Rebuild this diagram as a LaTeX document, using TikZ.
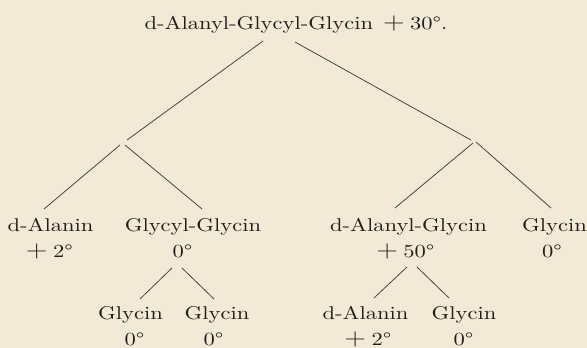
\documentclass[tikz,border=0pt]{standalone}
\usepackage{fontspec}
\usepackage{graphicx}
\usetikzlibrary{calc}
\newfontfamily\inkfont{lmroman10-regular.otf}
\definecolor{paper}{HTML}{F2E9D7}
\definecolor{ink}{HTML}{221E1A}
\definecolor{linec}{HTML}{4A4640}
\newcommand\pls{\scalebox{1.4}{$+$}\hspace{0.25em}}
\newcommand\wide[1]{\scalebox{1.22}[1]{#1}}
\begin{document}
\begin{tikzpicture}[x=1pt,y=-1pt,
  lbl/.style={anchor=base, inner sep=0pt, text=ink, font=\fontsize{18.5}{22}\inkfont},
  conn/.style={draw=linec, line width=0.8pt}]
\fill[paper] (0,0) rectangle (587,348);
\useasboundingbox (0,0) rectangle (587,348);
% top
\node[lbl] (top) at (296,29) {\wide{d-Alanyl-Glycyl-Glycin\hspace{0.45em}\pls30°.}};
% level 1
\node[lbl] (dA)   at (50.5,231) {\wide{d-Alanin}};
\node[lbl] (dAv)  at (49.5,257) {\wide{\pls2°}};
\node[lbl] (GG)   at (193,231)  {\wide{Glycyl-Glycin}};
\node[lbl] (GGv)  at (182.5,257){\wide{0°}};
\node[lbl] (dAG)  at (408.5,231){\wide{d-Alanyl-Glycin}};
\node[lbl] (dAGv) at (405.5,257){\wide{\pls50°}};
\node[lbl] (G)    at (554.5,231){\wide{Glycin}};
\node[lbl] (Gv)   at (552,257)  {\wide{0°}};
% level 2
\node[lbl] (g1)   at (130.5,319.5){\wide{Glycin}};
\node[lbl] (g1v)  at (134.5,345)  {\wide{0°}};
\node[lbl] (g2)   at (217,319.5)  {\wide{Glycin}};
\node[lbl] (g2v)  at (213.5,345)  {\wide{0°}};
\node[lbl] (dA2)  at (365.5,319.5){\wide{d-Alanin}};
\node[lbl] (dA2v) at (368,345)    {\wide{\pls2°}};
\node[lbl] (g3)   at (464,319.5)  {\wide{Glycin}};
\node[lbl] (g3v)  at (463.5,345)  {\wide{0°}};
% junctions
\coordinate (jl) at (123,143);
\coordinate (jr) at (474,142);
% connectors
\draw[conn] ($(top.base)+(-33,12)$) -- ($(jl)+(4,-3)$);
\draw[conn] ($(top.base)+(-1,13)$) -- ($(jr)+(-3,-2)$);
\draw[conn] ($(jl)+(-3,2)$) -- ($(dA.base)+(-6.5,-22)$);
\draw[conn] ($(jl)+(2,2)$) -- ($(GG.base)+(9,-22)$);
\draw[conn] ($(jr)+(-1,1)$) -- ($(dAG.base)+(-13.5,-23)$);
\draw[conn] ($(jr)+(2,0)$) -- ($(G.base)+(-3.5,-23)$);
\draw[conn] ($(GGv.base)+(-10.5,11)$) -- ($(g1.base)+(9.5,-20.5)$);
\draw[conn] ($(GGv.base)+(-0.5,11)$) -- ($(g2.base)+(-3,-20.5)$);
\draw[conn] ($(dAGv.base)+(1.5,10)$) -- ($(dA2.base)+(8.5,-21.5)$);
\draw[conn] ($(dAGv.base)+(11.5,10)$) -- ($(g3.base)+(-15,-21.5)$);
\end{tikzpicture}
\end{document}
